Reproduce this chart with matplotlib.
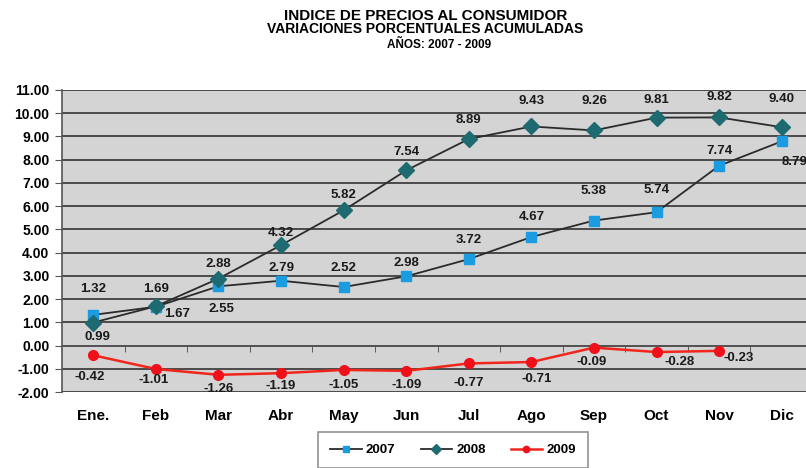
import matplotlib
matplotlib.use("Agg")
import matplotlib.pyplot as plt
from matplotlib.ticker import MultipleLocator, FixedLocator

plt.rcParams['font.family'] = ['Liberation Sans', 'DejaVu Sans']
plt.rcParams['font.weight'] = 'bold'

# data
meses = ["Ene.", "Feb", "Mar", "Abr", "May", "Jun", "Jul", "Ago", "Sep", "Oct", "Nov", "Dic"]
v2007 = [1.32, 1.67, 2.55, 2.79, 2.52, 2.98, 3.72, 4.67, 5.38, 5.74, 7.74, 8.79]
v2008 = [0.99, 1.69, 2.88, 4.32, 5.82, 7.54, 8.89, 9.43, 9.26, 9.81, 9.82, 9.40]
v2009 = [-0.42, -1.01, -1.26, -1.19, -1.05, -1.09, -0.77, -0.71, -0.09, -0.28, -0.23]

# label offsets in pixels (dx, dy up)
off07 = [(0, 26), (21, -7), (3, -23), (0, 13), (0, 19), (0, 13), (0, 19), (0, 20),
         (0, 30), (0, 22), (0, 15), (13, -21)]
off08 = [(4, -14), (0, 17), (0, 15), (0, 12), (0, 15), (0, 18), (0, 19), (0, 25),
         (0, 29), (0, 18), (0, 20), (0, 28)]
off09 = [(-4, -22), (-2, -11), (0, -14), (0, -13), (0, -15), (0, -14), (0, -20), (5, -17),
         (-2, -14), (23, -10), (20, -7)]

W, H = 806, 468
fig = plt.figure(figsize=(W / 100, H / 100), dpi=100)
ax = fig.add_axes([62 / W, 76 / H, (813 - 62) / W, (392 - 90) / H])
ax.set_facecolor('#d4d4d4')

x = list(range(len(meses)))
x9 = x[:len(v2009)]

ax.plot(x, v2007, color='#2b2b2b', lw=1.3, marker='s', ms=6.5,
        mfc='#1b9be0', mec='#1b9be0', label='2007', zorder=4)
ax.plot(x, v2008, color='#2b2b2b', lw=1.3, marker='D', ms=8,
        mfc='#1d6b70', mec='#1d6b70', label='2008', zorder=5)
ax.plot(x9, v2009, color='#f0251c', lw=1.8, marker='o', ms=7,
        mfc='#f0101a', mec='#f0101a', label='2009', zorder=4)

ax.set_xlim(-0.5, len(meses) - 0.5)
ax.set_ylim(-2, 11)
ax.yaxis.set_major_locator(MultipleLocator(1))
ax.set_yticks(range(-2, 12))
ax.set_yticklabels([f"{v:.2f}" for v in range(-2, 12)])
ax.grid(axis='y', color='#4a4a4a', lw=1.4, zorder=1)
ax.set_axisbelow(True)

for s in ['top', 'right']:
    ax.spines[s].set_visible(False)
ax.spines['left'].set_color('#555555')
ax.spines['left'].set_linewidth(1.2)
ax.spines['bottom'].set_position(('data', 0))
ax.spines['bottom'].set_color('#555555')
ax.spines['bottom'].set_linewidth(1.4)

ax.set_xticks(x)
ax.set_xticklabels(meses, fontsize=11)
ax.xaxis.set_minor_locator(FixedLocator([i + 0.5 for i in x]))
ax.tick_params(axis='x', which='major', length=0, pad=46)
ax.tick_params(axis='x', which='minor', length=4, color='#444444', direction='out')
ax.tick_params(axis='y', length=5, color='#555555', labelsize=10, pad=4)

# data labels
px = 0.72
for vals, offs in [(v2007, off07), (v2008, off08), (v2009, off09)]:
    for i, v in enumerate(vals):
        dx, dy = offs[i]
        ax.annotate(f"{v:.2f}", (i, v), xytext=(dx * px, dy * px), textcoords='offset points',
                    ha='center', va='center', fontsize=9.5, color='#1a1a1a', zorder=6)

fig.text(0.528, 0.966, "INDICE DE PRECIOS AL CONSUMIDOR", ha='center', va='center', fontsize=11)
fig.text(0.527, 0.937, "VARIACIONES PORCENTUALES ACUMULADAS", ha='center', va='center', fontsize=10)
fig.text(0.545, 0.904, "AÑOS: 2007 - 2009", ha='center', va='center', fontsize=8.5)

leg = fig.legend(loc='center', bbox_to_anchor=(453 / W, 1 - 450 / H), ncol=3,
                 fontsize=9.5, frameon=True, fancybox=False, edgecolor='#777777',
                 handlelength=2.4, columnspacing=1.9, handletextpad=0.3,
                 borderpad=0.9, markerscale=0.65)
leg.get_frame().set_linewidth(1.2)

fig.savefig("out.png", dpi=100)
